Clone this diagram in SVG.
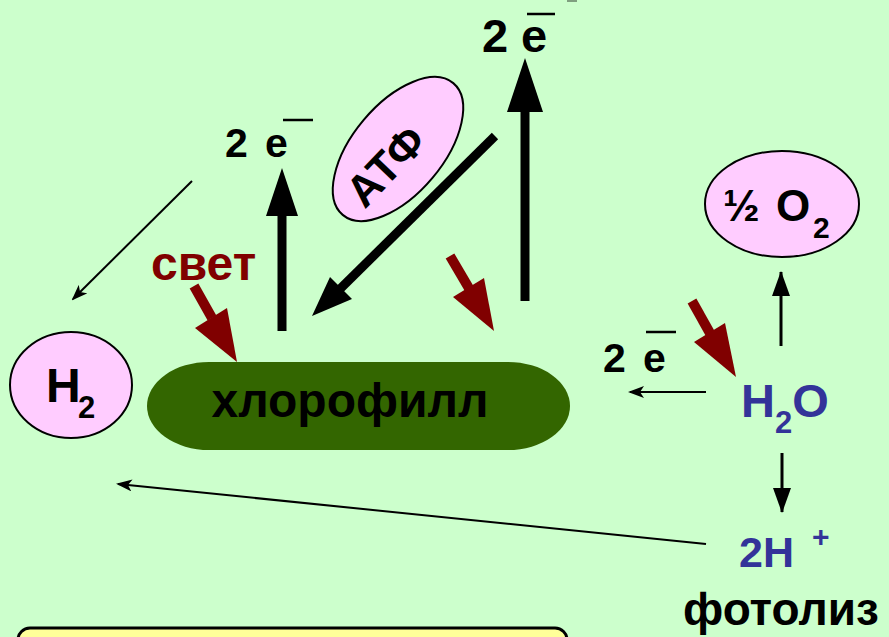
<svg xmlns="http://www.w3.org/2000/svg" width="889" height="637" viewBox="0 0 889 637">
<style>
.t{font-family:"Liberation Sans",Arial,sans-serif;font-weight:bold;fill:#000}
.blue{fill:#333399}
.red{fill:#800000}
.pink{fill:#FFCCFF;stroke:#000;stroke-width:2}
.thin{stroke:#000;stroke-width:2;fill:none}
.mid{stroke:#000;stroke-width:3;fill:none}
.big{stroke:#000;stroke-width:9;fill:none}
.rsh{stroke:#800000;stroke-width:10;fill:none}
.bh{fill:#000}
.rh{fill:#800000}
.ov{stroke:#000;stroke-width:2.5}
</style>
<defs>
<marker id="ah" markerUnits="userSpaceOnUse" markerWidth="16" markerHeight="12" refX="14" refY="6" orient="auto"><path d="M0,0 L16,6 L0,12 L4,6 Z" fill="#000"/></marker>
<marker id="ah2" markerUnits="userSpaceOnUse" markerWidth="26" markerHeight="20" refX="24" refY="10" orient="auto"><path d="M0,1 L25,10 L0,19 Z" fill="#000"/></marker>
</defs>
<rect width="889" height="637" fill="#CCFFCC"/>
<rect x="567" y="0" width="10" height="2" fill="#7F9F7F"/>

<g id="connectors">
<line class="big" x1="282" y1="331" x2="282" y2="210"/>
<polygon class="bh" points="282,168 266,216 298,216"/>
<line class="big" x1="525" y1="301" x2="525" y2="106"/>
<polygon class="bh" points="525,58 507,112 543,112"/>
<line class="big" x1="495" y1="136" x2="340" y2="289"/>
<polygon class="bh" points="312,316 330,277 352,299"/>
<line class="rsh" x1="194" y1="286" x2="212" y2="318"/>
<polygon class="rh" points="237,362 195,328 227,308"/>
<line class="rsh" x1="450" y1="256" x2="470" y2="290"/>
<polygon class="rh" points="494,331 453,297 484,278"/>
<line class="rsh" x1="692" y1="301" x2="711" y2="335"/>
<polygon class="rh" points="736,377 694,342 725,323"/>
<line class="thin" x1="192" y1="181" x2="73" y2="299" marker-end="url(#ah)"/>
<line class="thin" x1="706" y1="392" x2="630" y2="392" marker-end="url(#ah)"/>
<line class="thin" x1="706" y1="544" x2="118" y2="484" marker-end="url(#ah)"/>
<line class="mid" x1="781" y1="346" x2="781" y2="272" marker-end="url(#ah2)"/>
<line class="mid" x1="782" y1="453" x2="782" y2="512" marker-end="url(#ah2)"/>
</g>

<g id="e-top">
<text class="t" y="52" font-size="47"><tspan x="482">2</tspan><tspan x="521">e</tspan></text>
<line class="ov" x1="527" y1="14" x2="555" y2="14"/>
</g>
<g id="e-left">
<text class="t" y="157" font-size="41"><tspan x="225">2</tspan><tspan x="265">e</tspan></text>
<line class="ov" x1="283" y1="120" x2="313" y2="120"/>
</g>
<g id="atf">
<ellipse class="pink" cx="398" cy="149" rx="86" ry="45" transform="rotate(-50 398 149)"/>
<text class="t" x="386" y="181" font-size="44" text-anchor="middle" transform="rotate(-46 386 166)">АТФ</text>
</g>
<g id="o2">
<ellipse class="pink" cx="782" cy="204" rx="77" ry="53"/>
<text class="t" y="221" font-size="44"><tspan x="723">½</tspan><tspan x="776">O</tspan><tspan x="813" font-size="30" dy="17">2</tspan></text>
</g>
<g id="h2">
<ellipse class="pink" cx="71" cy="385" rx="61" ry="53"/>
<text class="t" x="46" y="402" font-size="48">H<tspan font-size="31" x="78" dy="16">2</tspan></text>
</g>
<g id="chlorophyll">
<rect x="147" y="362" width="423" height="88" rx="62" ry="44" fill="#336600"/>
<text class="t" x="350" y="417" font-size="48" text-anchor="middle">хлорофилл</text>
</g>
<g id="svet">
<text class="t red" x="151" y="280" font-size="48">свет</text>
</g>
<g id="e-right">
<text class="t" y="372" font-size="41"><tspan x="603">2</tspan><tspan x="643">e</tspan></text>
<line class="ov" x1="646" y1="332" x2="676" y2="332"/>
</g>
<g id="h2o">
<text class="t blue" x="741" y="417" font-size="47">H<tspan font-size="31" dy="16">2</tspan><tspan dy="-16">O</tspan></text>
</g>
<g id="h-plus">
<text class="t blue" y="567" font-size="43"><tspan x="739">2H</tspan><tspan x="812" font-size="30" dy="-20">+</tspan></text>
</g>
<g id="photolysis">
<text class="t" x="683" y="625" font-size="46">фотолиз</text>
</g>
<g id="box">
<rect x="18" y="628" width="549" height="40" rx="12" fill="#FFFF99" stroke="#000" stroke-width="3"/>
</g>
</svg>
